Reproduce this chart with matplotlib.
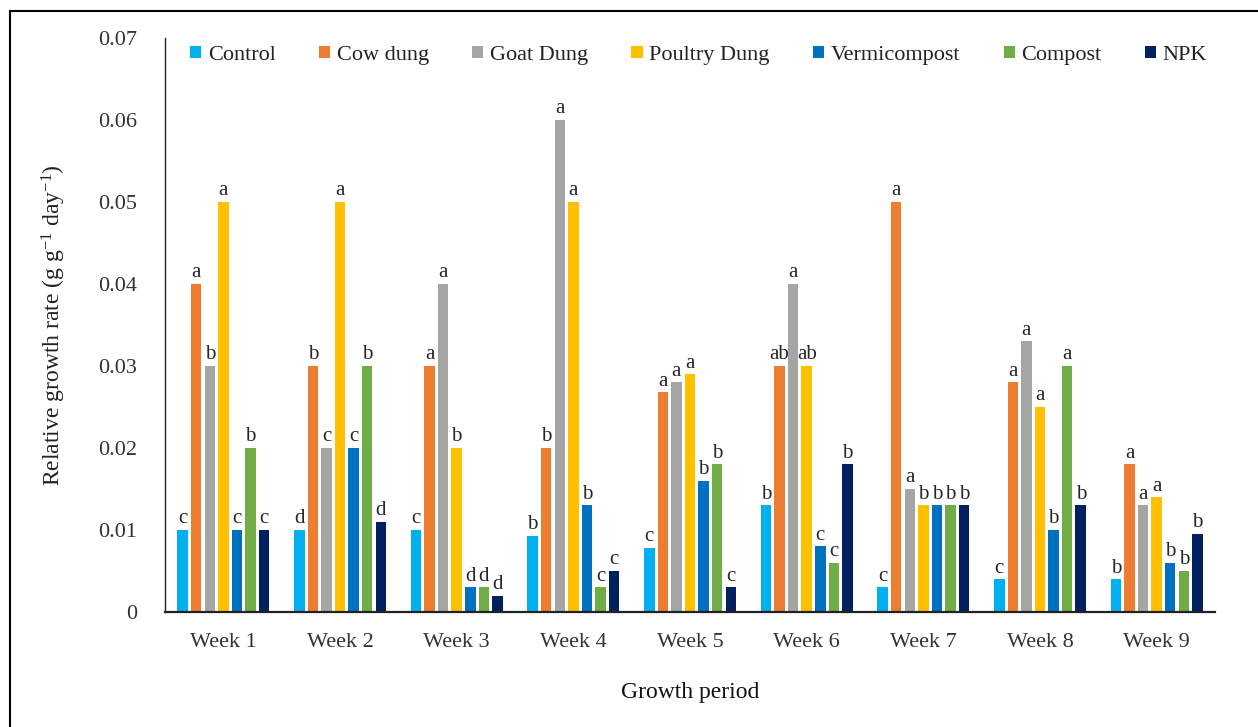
import matplotlib
matplotlib.use('Agg')
import matplotlib.pyplot as plt
from matplotlib.patches import Patch
from matplotlib.lines import Line2D
import numpy as np

plt.rcParams['font.family'] = ['Liberation Serif', 'DejaVu Serif']
plt.rcParams['mathtext.fontset'] = 'custom'
plt.rcParams['mathtext.rm'] = 'Liberation Serif'
plt.rcParams['mathtext.it'] = 'Liberation Serif:italic'

weeks = ['Week 1', 'Week 2', 'Week 3', 'Week 4', 'Week 5',
         'Week 6', 'Week 7', 'Week 8', 'Week 9']
treatments = ['Control', 'Cow dung', 'Goat Dung', 'Poultry Dung',
              'Vermicompost', 'Compost', 'NPK']
colors = ['#00B0F0', '#ED7D31', '#A5A5A5', '#FFC000',
          '#0070C0', '#70AD47', '#002060']

# relative growth rate per treatment, one value per week
control = [0.010, 0.010, 0.010, 0.0093, 0.0078, 0.013, 0.003, 0.004, 0.004]
cow_dung = [0.040, 0.030, 0.030, 0.020, 0.0268, 0.030, 0.050, 0.028, 0.018]
goat_dung = [0.030, 0.020, 0.040, 0.060, 0.028, 0.040, 0.015, 0.033, 0.013]
poultry_dung = [0.050, 0.050, 0.020, 0.050, 0.029, 0.030, 0.013, 0.025, 0.014]
vermicompost = [0.010, 0.020, 0.003, 0.013, 0.016, 0.008, 0.013, 0.010, 0.006]
compost = [0.020, 0.030, 0.003, 0.003, 0.018, 0.006, 0.013, 0.030, 0.005]
npk = [0.010, 0.011, 0.002, 0.005, 0.003, 0.018, 0.013, 0.013, 0.0095]

# significance letters (same order as the series above)
control_sig = ['c', 'd', 'c', 'b', 'c', 'b', 'c', 'c', 'b']
cow_dung_sig = ['a', 'b', 'a', 'b', 'a', 'ab', 'a', 'a', 'a']
goat_dung_sig = ['b', 'c', 'a', 'a', 'a', 'a', 'a', 'a', 'a']
poultry_dung_sig = ['a', 'a', 'b', 'a', 'a', 'ab', 'b', 'a', 'a']
vermicompost_sig = ['c', 'c', 'd', 'b', 'b', 'c', 'b', 'b', 'b']
compost_sig = ['b', 'b', 'd', 'c', 'b', 'c', 'b', 'a', 'b']
npk_sig = ['c', 'd', 'd', 'c', 'c', 'b', 'b', 'b', 'b']

series = [control, cow_dung, goat_dung, poultry_dung, vermicompost, compost, npk]
letters = [control_sig, cow_dung_sig, goat_dung_sig, poultry_dung_sig,
           vermicompost_sig, compost_sig, npk_sig]

fig = plt.figure(figsize=(12.58, 7.27), dpi=100)
ax = fig.add_axes([0.1312, 0.1582, 0.8346, 0.7895])

x = np.arange(len(weeks))
step = 0.1164
width = 0.09
for j, (vals, sig) in enumerate(zip(series, letters)):
    pos = x + (j - 3) * step
    ax.bar(pos, vals, width=width, color=colors[j], label=treatments[j])
    for xp, v, s in zip(pos, vals, sig):
        ax.text(xp, v + 0.0002, s, ha='center', va='bottom',
                fontsize=15, color='#262626')

ax.set_xlim(-0.5, len(weeks) - 0.5)
ax.set_ylim(0, 0.07)
ax.set_yticks(np.arange(0, 0.071, 0.01))
ax.set_yticklabels(['0'] + ['%.2f' % v for v in np.arange(0.01, 0.071, 0.01)])
ax.set_xticks(x)
ax.set_xticklabels(weeks)
ax.tick_params(axis='y', length=0, pad=20, labelsize=16, labelcolor='#333333')
ax.tick_params(axis='x', length=0, pad=15, labelsize=16, labelcolor='#333333')

for side in ['top', 'right']:
    ax.spines[side].set_visible(False)
ax.spines['left'].set_color('#222222')
ax.spines['left'].set_linewidth(1.0)
ax.spines['bottom'].set_color('#222222')
ax.spines['bottom'].set_linewidth(1.6)

ax.set_ylabel('Relative growth rate (g g$^{-1}$ day$^{-1}$)', fontsize=17,
              color='#222222', labelpad=22)
ax.set_xlabel('Growth period', fontsize=17, color='#111111', labelpad=22)

handles = [Patch(facecolor=c, edgecolor='none') for c in colors]
ax.legend(handles, treatments, ncol=7, loc='center left',
          bbox_to_anchor=(0.0238, 0.970), frameon=False, fontsize=16,
          handlelength=0.5, handleheight=0.5, handletextpad=0.3,
          columnspacing=1.95, borderpad=0, borderaxespad=0,
          labelcolor='#222222')

# outer frame lines of the figure panel
fig.add_artist(Line2D([0.008, 1.0], [0.985, 0.985], transform=fig.transFigure,
                      color='black', linewidth=1.5))
fig.add_artist(Line2D([0.008, 0.008], [0.0, 0.985], transform=fig.transFigure,
                      color='black', linewidth=1.5))

fig.savefig('out.png', dpi=100)
